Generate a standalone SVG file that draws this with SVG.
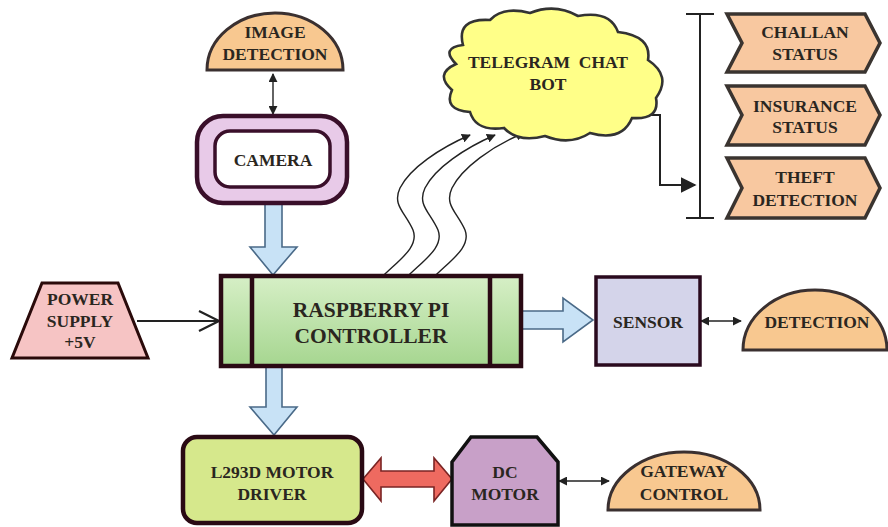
<svg xmlns="http://www.w3.org/2000/svg" width="888" height="527" viewBox="0 0 888 527" font-family="Liberation Serif, DejaVu Serif, serif">
<defs>
<style>
text{font-weight:bold;font-size:17.5px;fill:#2a2620;text-anchor:middle}
.dome{fill:#f8c890;stroke:#3a3030;stroke-width:3}
.chev{fill:#f8c8a0;stroke:#3a3430;stroke-width:3.5}
.blue{fill:#c8e2f6;stroke:#4a6a88;stroke-width:1.6}
.thin{fill:none;stroke:#222;stroke-width:1.4}
.line{fill:none;stroke:#222;stroke-width:2}
</style>
<linearGradient id="g" x1="0" y1="0" x2="0" y2="1">
<stop offset="0" stop-color="#d6efc6"/>
<stop offset="1" stop-color="#a6d690"/>
</linearGradient>
<marker id="ah" viewBox="0 0 10 10" refX="9" refY="5" markerWidth="9" markerHeight="9" markerUnits="userSpaceOnUse" orient="auto-start-reverse">
<path d="M0,0 L10,5 L0,10 Z" fill="#222"/>
</marker>
<marker id="ahb" viewBox="0 0 10 10" refX="9" refY="5" markerWidth="16" markerHeight="16" markerUnits="userSpaceOnUse" orient="auto">
<path d="M0,0 L10,5 L0,10 Z" fill="#222"/>
</marker>
<marker id="ao" viewBox="0 0 24 24" refX="22" refY="12" markerWidth="24" markerHeight="24" markerUnits="userSpaceOnUse" orient="auto">
<path d="M2,2 L22,12 L2,22" fill="none" stroke="#222" stroke-width="2.2"/>
</marker>
</defs>
<rect width="888" height="527" fill="#ffffff"/>

<g id="connectors">
<line class="thin" x1="273" y1="74" x2="273" y2="114" marker-start="url(#ah)" marker-end="url(#ah)"/>
<polygon class="blue" points="265,203 282,203 282,247 297,247 273,275 250,247 265,247"/>
<polygon class="blue" points="266,367 282,367 282,407 297,407 274,435 250,407 266,407"/>
<polygon class="blue" points="522,311 563,311 563,298 593,320 563,342 563,329 522,329"/>
<line class="line" x1="137" y1="321" x2="219" y2="321" marker-end="url(#ao)"/>
<line class="thin" x1="701" y1="321" x2="741" y2="321" marker-start="url(#ah)" marker-end="url(#ah)"/>
<line class="thin" x1="559" y1="481" x2="609" y2="481" marker-start="url(#ah)" marker-end="url(#ah)"/>
<polygon fill="#ee6a60" stroke="#7a2424" stroke-width="1.6" points="363,479 381,458 381,471 434,471 434,458 452,479 434,501 434,487 381,487 381,501"/>
<path class="thin" d="M380,279 C396,262 420,248 413,230 C405,212 392,205 400,188 C410,168 440,148 470,135" marker-end="url(#ah)"/>
<path class="thin" d="M405,279 C421,262 445,248 438,230 C430,212 417,205 425,188 C435,168 465,148 495,135" marker-end="url(#ah)"/>
<path class="thin" d="M432,279 C448,262 472,248 465,230 C457,212 444,205 452,188 C462,168 492,146 524,133" marker-end="url(#ah)"/>
<path class="line" d="M641,115 L660,115 L660,185 L695,185" marker-end="url(#ahb)"/>
<g id="bracket">
<line class="line" x1="700" y1="14" x2="700" y2="218" stroke-width="2.4"/>
<line class="line" x1="686" y1="14" x2="714" y2="14" stroke-width="2.4"/>
<line class="line" x1="686" y1="218" x2="714" y2="218" stroke-width="2.4"/>
</g>
</g>

<g id="image-detection">
<path class="dome" d="M207,70 A68,57 0 0 1 343,70 Z"/>
<text x="275" y="38">IMAGE</text>
<text x="275" y="60">DETECTION</text>
</g>

<g id="camera">
<rect x="197" y="116" width="150" height="87" rx="26" fill="#e8cae8" stroke="#3a0f2a" stroke-width="4.5"/>
<rect x="215" y="131" width="115" height="56" rx="15" fill="#ffffff" stroke="#3a0f2a" stroke-width="3.5"/>
<text x="273" y="166">CAMERA</text>
</g>

<g id="telegram">
<path d="M463,45 Q456,18 490,20 Q503,6 530,13 Q555,3 578,16 Q610,10 618,32 Q652,36 648,60 Q672,76 656,98 Q660,120 632,118 Q622,142 590,133 Q570,146 545,136 Q518,143 504,128 Q476,132 470,112 Q443,110 452,90 Q434,74 456,64 Q440,48 463,45 Z" fill="#ffff88" stroke="#333" stroke-width="2.6"/>
<text x="548" y="68" xml:space="preserve">TELEGRAM  CHAT</text>
<text x="548" y="90">BOT</text>
</g>

<g id="challan">
<polygon class="chev" points="727,14 865,14 880,43 865,72 727,72 742,43"/>
<text x="805" y="38">CHALLAN</text>
<text x="805" y="60">STATUS</text>
</g>
<g id="insurance">
<polygon class="chev" points="727,86 865,86 880,115 865,145 727,145 742,115"/>
<text x="805" y="112">INSURANCE</text>
<text x="805" y="133">STATUS</text>
</g>
<g id="theft">
<polygon class="chev" points="727,158 865,158 880,188 865,218 727,218 742,188"/>
<text x="805" y="183">THEFT</text>
<text x="805" y="206">DETECTION</text>
</g>

<g id="power">
<polygon points="42,283 118,283 148,358 12,358" fill="#f6c4c4" stroke="#2a0a0a" stroke-width="3"/>
<text x="80" y="305">POWER</text>
<text x="80" y="327">SUPPLY</text>
<text x="80" y="348">+5V</text>
</g>

<g id="raspberry">
<rect x="221" y="276" width="300" height="90" fill="url(#g)" stroke="#2a0a14" stroke-width="4.5"/>
<line x1="252" y1="276" x2="252" y2="366" stroke="#2a0a14" stroke-width="4.5"/>
<line x1="490" y1="276" x2="490" y2="366" stroke="#2a0a14" stroke-width="4.5"/>
<text x="371" y="317" style="font-size:21.5px">RASPBERRY PI</text>
<text x="371" y="343" style="font-size:21.5px">CONTROLLER</text>
</g>

<g id="sensor">
<rect x="596" y="277" width="104" height="88" fill="#d4d4ea" stroke="#2a0a1e" stroke-width="3.5"/>
<text x="648" y="328">SENSOR</text>
</g>

<g id="detection">
<path class="dome" d="M743,350 A72,60 0 0 1 887,350 Z"/>
<text x="817" y="328">DETECTION</text>
</g>

<g id="l293d">
<rect x="183" y="437" width="179" height="86" rx="14" fill="#d6e88c" stroke="#2a0a14" stroke-width="4.5"/>
<text x="272" y="478">L293D MOTOR</text>
<text x="272" y="500">DRIVER</text>
</g>

<g id="dc-motor">
<polygon points="452,525 452,462 471,437 537,437 558,462 558,525" fill="#c8a0c8" stroke="#111" stroke-width="3.5"/>
<text x="505" y="478">DC</text>
<text x="505" y="500">MOTOR</text>
</g>

<g id="gateway">
<path class="dome" d="M608,510 A76,58 0 0 1 760,510 Z"/>
<text x="684" y="477">GATEWAY</text>
<text x="684" y="500">CONTROL</text>
</g>
</svg>
